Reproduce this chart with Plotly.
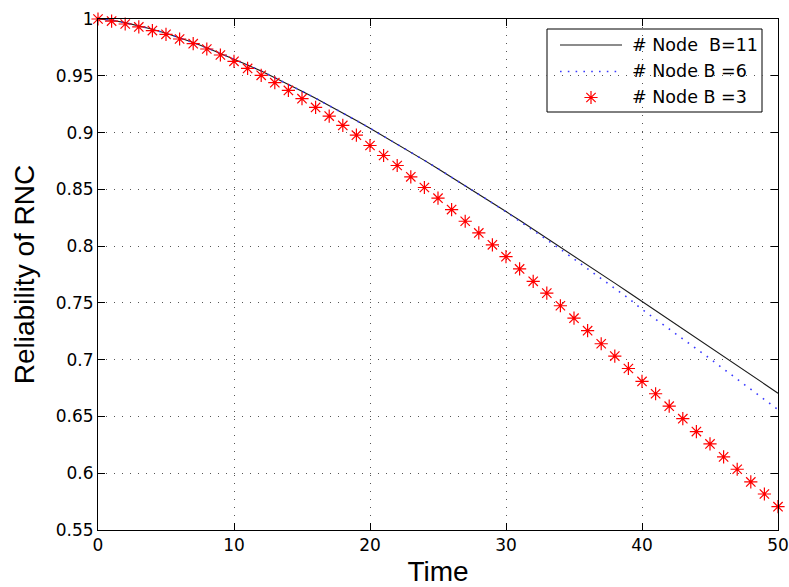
import plotly.graph_objects as go

# Reliability of the RNC over time for three Node B counts
time = list(range(51))

rel_b11 = [1.0000, 0.9989, 0.9968, 0.9941, 0.9910, 0.9874, 0.9835, 0.9793, 0.9747, 0.9699,
           0.9649, 0.9596, 0.9541, 0.9484, 0.9425, 0.9364, 0.9302, 0.9238, 0.9173, 0.9106,
           0.9038, 0.8969, 0.8899, 0.8828, 0.8755, 0.8682, 0.8608, 0.8533, 0.8458, 0.8382,
           0.8305, 0.8227, 0.8149, 0.8071, 0.7993, 0.7913, 0.7833, 0.7754, 0.7674, 0.7593,
           0.7513, 0.7432, 0.7352, 0.7270, 0.7190, 0.7109, 0.7028, 0.6947, 0.6866, 0.6786,
           0.6705]

rel_b6 = [1.0000, 0.9989, 0.9968, 0.9941, 0.9910, 0.9874, 0.9835, 0.9793, 0.9747, 0.9699,
          0.9649, 0.9596, 0.9541, 0.9484, 0.9425, 0.9364, 0.9302, 0.9238, 0.9173, 0.9106,
          0.9038, 0.8969, 0.8899, 0.8828, 0.8755, 0.8682, 0.8608, 0.8533, 0.8458, 0.8380,
          0.8302, 0.8222, 0.8139, 0.8056, 0.7973, 0.7888, 0.7803, 0.7718, 0.7628, 0.7541,
          0.7443, 0.7357, 0.7272, 0.7183, 0.7095, 0.7009, 0.6918, 0.6829, 0.6736, 0.6651,
          0.6560]

rel_b3 = [1.0000, 0.9982, 0.9956, 0.9930, 0.9898, 0.9865, 0.9824, 0.9783, 0.9736, 0.9683,
          0.9627, 0.9565, 0.9504, 0.9439, 0.9371, 0.9298, 0.9221, 0.9145, 0.9063, 0.8977,
          0.8886, 0.8798, 0.8710, 0.8610, 0.8516, 0.8422, 0.8322, 0.8219, 0.8116, 0.8011,
          0.7907, 0.7799, 0.7690, 0.7586, 0.7475, 0.7365, 0.7255, 0.7140, 0.7032, 0.6922,
          0.6808, 0.6700, 0.6590, 0.6480, 0.6367, 0.6258, 0.6144, 0.6035, 0.5923, 0.5817,
          0.5705]

x_tickvals = [0, 10, 20, 30, 40, 50]
y_tickvals = [0.55, 0.60, 0.65, 0.70, 0.75, 0.80, 0.85, 0.90, 0.95, 1.00]
y_ticktext = ["0.55", "0.6", "0.65", "0.7", "0.75", "0.8", "0.85", "0.9", "0.95", "1"]

legend_labels = ["# Node\u00a0 B=11", "# Node B =6", "# Node B =3"]

W, H = 789, 587
ML, MR, MT, MB = 98, 11, 19, 57
PW, PH = W - ML - MR, H - MT - MB


def fx(px):
    return (px - ML) / PW


def fy(py):
    return (H - MB - py) / PH


TICK_FONT = dict(family="DejaVu Sans", size=17, color="black")
TITLE_FONT = dict(family="Liberation Sans, Arial, sans-serif", size=28, color="black")

SOLID = dict(color="#1a1a1a", width=1.1)
DOTTED = dict(color="#3a3aff", width=1.6, dash="1.6px,6.2px")
STAR = dict(symbol="asterisk-open", size=11, color="#ff0000",
            line=dict(width=1.2, color="#ff0000"))

fig = go.Figure()

fig.add_trace(go.Scatter(x=time, y=rel_b11, mode="lines", line=SOLID,
                         showlegend=False, cliponaxis=False))
fig.add_trace(go.Scatter(x=time, y=rel_b6, mode="lines", line=DOTTED,
                         showlegend=False, cliponaxis=False))
fig.add_trace(go.Scatter(x=time, y=rel_b3, mode="markers", marker=STAR,
                         showlegend=False, cliponaxis=False))

# hand-built legend: box, sample glyphs on an overlay axis, and labels
box = (547, 29, 762, 112)
row_y = [45, 71.5, 97.5]
sample_x0, sample_x1, text_x = 560, 622, 630

fig.add_shape(type="rect", xref="paper", yref="paper",
              x0=fx(box[0]), x1=fx(box[2]), y0=fy(box[3]), y1=fy(box[1]),
              line=dict(color="black", width=1), fillcolor="white", layer="between")

fig.add_trace(go.Scatter(x=[fx(sample_x0), fx(sample_x1)], y=[fy(row_y[0])] * 2,
                         mode="lines", line=SOLID,
                         xaxis="x2", yaxis="y2", showlegend=False, hoverinfo="skip"))
fig.add_trace(go.Scatter(x=[fx(sample_x0), fx(sample_x1)], y=[fy(row_y[1])] * 2,
                         mode="lines", line=DOTTED,
                         xaxis="x2", yaxis="y2", showlegend=False, hoverinfo="skip"))
fig.add_trace(go.Scatter(x=[fx((sample_x0 + sample_x1) / 2)], y=[fy(row_y[2])],
                         mode="markers", marker=STAR,
                         xaxis="x2", yaxis="y2", showlegend=False, hoverinfo="skip"))

for label, ry in zip(legend_labels, row_y):
    fig.add_annotation(x=fx(text_x), y=fy(ry), xref="paper", yref="paper",
                       text=label, showarrow=False, xanchor="left", yanchor="middle",
                       font=dict(family="DejaVu Sans", size=17.5, color="black"))

axis_common = dict(showline=True, linecolor="black", linewidth=1, mirror="ticks",
                   ticks="inside", ticklen=7, tickcolor="black", tickwidth=1,
                   showgrid=True, gridcolor="#555555", gridwidth=1, griddash="1px,7px",
                   zeroline=False, tickfont=TICK_FONT)

fig.update_layout(
    width=W, height=H,
    margin=dict(l=ML, r=MR, t=MT, b=MB, autoexpand=False),
    paper_bgcolor="white", plot_bgcolor="white",
    xaxis=dict(range=[0, 50], tickvals=x_tickvals,
               title=dict(text="Time", font=TITLE_FONT, standoff=11), **axis_common),
    yaxis=dict(range=[0.55, 1.0], tickvals=y_tickvals, ticktext=y_ticktext,
               title=dict(text="Reliability of RNC", font=TITLE_FONT, standoff=12),
               **axis_common),
    xaxis2=dict(overlaying="x", anchor="y2", range=[0, 1], visible=False, fixedrange=True),
    yaxis2=dict(overlaying="y", anchor="x2", range=[0, 1], visible=False, fixedrange=True),
)

fig.write_html("out.html")
